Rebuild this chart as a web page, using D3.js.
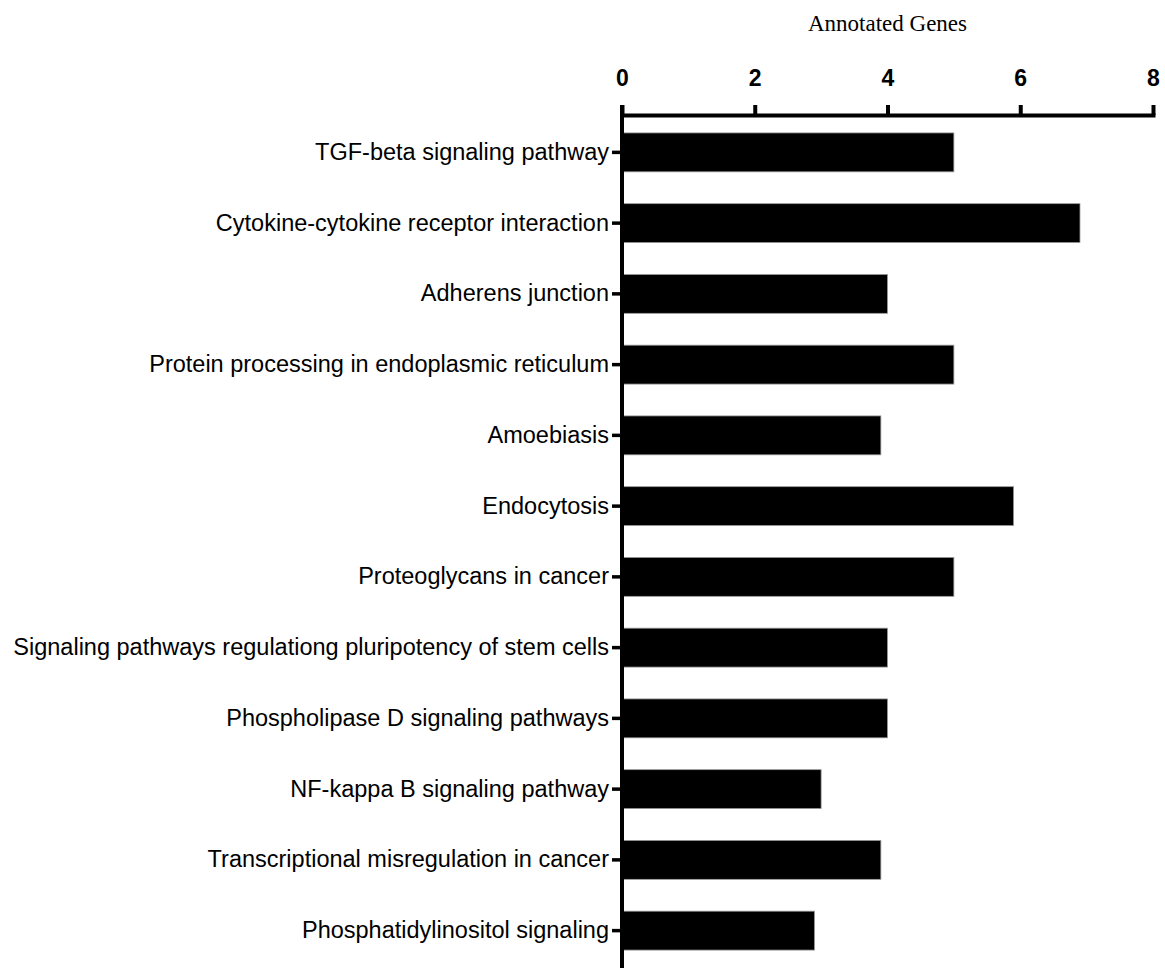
<!DOCTYPE html>
<html>
<head>
<meta charset="utf-8">
<script src="https://cdn.jsdelivr.net/npm/d3@7/dist/d3.min.js"></script>
<style>
  html, body { margin: 0; padding: 0; background: #fff; }
  svg { display: block; }
</style>
</head>
<body>
<svg id="chart" width="1165" height="968"></svg>
<script>
// KEGG pathways and the number of annotated genes in each
const pathways = [
  "TGF-beta signaling pathway",
  "Cytokine-cytokine receptor interaction",
  "Adherens junction",
  "Protein processing in endoplasmic reticulum",
  "Amoebiasis",
  "Endocytosis",
  "Proteoglycans in cancer",
  "Signaling pathways regulationg pluripotency of stem cells",
  "Phospholipase D signaling pathways",
  "NF-kappa B signaling pathway",
  "Transcriptional misregulation in cancer",
  "Phosphatidylinositol signaling"
];
const geneCounts = [5, 6.9, 4, 5, 3.9, 5.9, 5, 4, 4, 3, 3.9, 2.9];
const xTicks = [0, 2, 4, 6, 8];
const xTitle = "Annotated Genes";

const W = 1165, H = 968;
const margin = { top: 115, right: 12, bottom: 2, left: 622 };

const svg = d3.select("#chart");

const x = d3.scaleLinear()
  .domain([0, 8])
  .range([margin.left, W - margin.right]);

const y = d3.scaleBand()
  .domain(pathways)
  .range([margin.top + 2, H - margin.bottom])
  .paddingInner(0.45)
  .paddingOuter(0.225);

// bars
svg.append("g")
  .selectAll("rect")
  .data(pathways)
  .join("rect")
  .attr("x", x(0))
  .attr("y", d => y(d))
  .attr("width", (d, i) => x(geneCounts[i]) - x(0))
  .attr("height", y.bandwidth())
  .attr("fill", "#000")
  .attr("stroke", "#9a9a9a")
  .attr("stroke-width", 0.8);

// top value axis
const gx = svg.append("g")
  .attr("transform", `translate(0,${margin.top})`)
  .call(d3.axisTop(x).tickValues(xTicks).tickSize(10).tickSizeOuter(0).tickPadding(19));
gx.select(".domain").attr("stroke-width", 4).attr("stroke-linecap", "square");
gx.selectAll(".tick line").attr("stroke-width", 4);
gx.selectAll(".tick text")
  .attr("font-family", "'Liberation Sans', Arial, sans-serif")
  .attr("font-weight", "bold")
  .attr("font-size", 23)
  .attr("fill", "#000");

// left category axis
const gy = svg.append("g")
  .attr("transform", `translate(${x(0)},0)`)
  .call(d3.axisLeft(y).tickSize(10).tickPadding(3));
gy.select(".domain").remove();
gy.selectAll(".tick line").attr("stroke-width", 3.5);
gy.selectAll(".tick text")
  .attr("font-family", "'Liberation Sans', Arial, sans-serif")
  .attr("font-size", 23.5)
  .attr("fill", "#000");

// vertical axis line, running from the top tick height to the bottom edge
svg.append("line")
  .attr("x1", x(0)).attr("x2", x(0))
  .attr("y1", margin.top - 10)
  .attr("y2", H)
  .attr("stroke", "#000")
  .attr("stroke-width", 4);

// axis title
svg.append("text")
  .attr("x", (x(0) + x(8)) / 2)
  .attr("y", 31)
  .attr("text-anchor", "middle")
  .attr("font-family", "'Liberation Serif', 'Times New Roman', serif")
  .attr("font-size", 23)
  .attr("fill", "#000")
  .text(xTitle);
</script>
</body>
</html>
